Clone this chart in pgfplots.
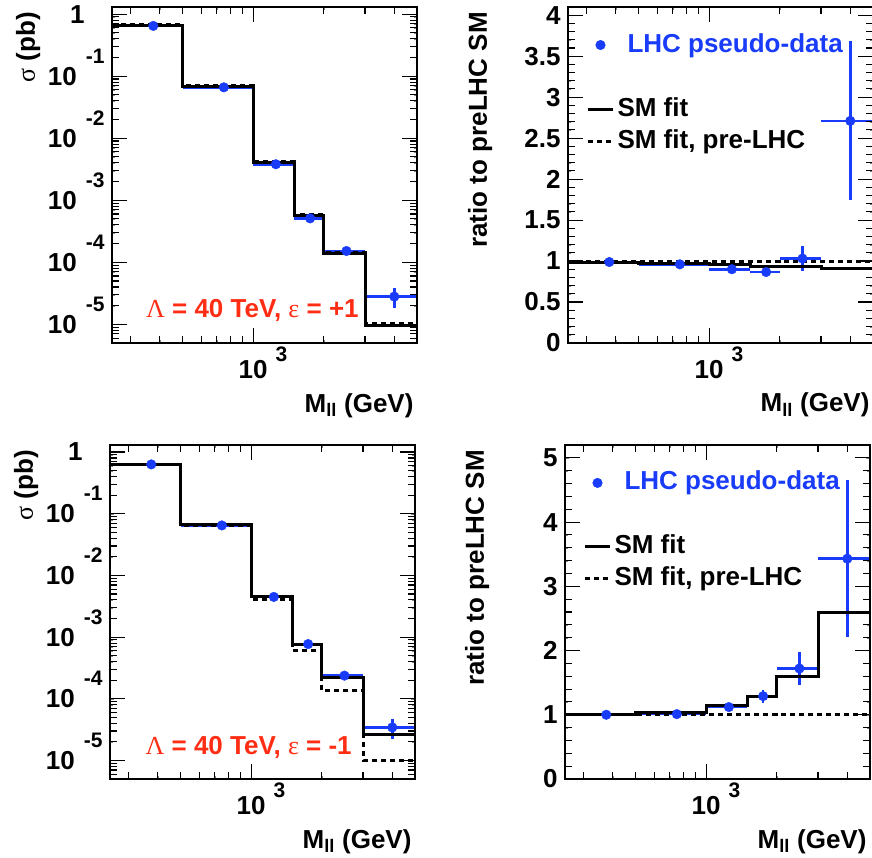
\documentclass[border=0pt]{standalone}
\usepackage{pgfplots}
\pgfplotsset{compat=1.18}
\usepackage{fontspec}
\setmainfont{Liberation Sans}
\newfontfamily\grk{Liberation Serif}
\definecolor{rblue}{RGB}{25,60,250}
\definecolor{rred}{RGB}{255,45,20}
\newcommand\fs{\fontsize{26}{31}\selectfont\bfseries}
\newcommand\expo[1]{10\raisebox{22pt}[0pt][0pt]{\hspace{9pt}\fontsize{21}{21}\selectfont #1}}
\newcommand\xexpo{10\rlap{\hspace{8pt}\raisebox{17pt}[0pt][0pt]{\fontsize{21}{21}\selectfont 3}}}
\tikzset{tk/.style={line width=1.1pt, black, solid}}
% x ticks: #1 ymin, #2 minor end, #3 major end, #4 ymax, #5 minor end, #6 major end
\newcommand\xtkP[6]{%
  \pgfplotsinvokeforeach{300,400,500,600,700,800,900,2000,3000,4000}{%
    \addplot[tk, forget plot] coordinates {(##1,#1)(##1,#2)};
    \addplot[tk, forget plot] coordinates {(##1,#4)(##1,#5)};}%
  \addplot[tk, forget plot] coordinates {(1000,#1)(1000,#3)};
  \addplot[tk, forget plot] coordinates {(1000,#4)(1000,#6)};}
% y ticks: #1 major list, #2 minor list
\newcommand\ytkP[2]{%
  \pgfplotsinvokeforeach{#1}{%
    \addplot[tk, forget plot] coordinates {(250,##1)(289.5,##1)};
    \addplot[tk, forget plot] coordinates {(5000,##1)(4318,##1)};}%
  \pgfplotsinvokeforeach{#2}{%
    \addplot[tk, forget plot] coordinates {(250,##1)(269,##1)};
    \addplot[tk, forget plot] coordinates {(5000,##1)(4647,##1)};}}
\newcommand\frmP[2]{\addplot[black, line width=2.8pt, solid, line cap=rect, line join=miter, forget plot] coordinates {(250,#1)(5000,#1)(5000,#2)(250,#2)(250,#1)};}

\pgfplotstableread{
x y ex ey
375 0.645 125 0.003
750 0.066 250 0.0007
1250 0.0038 250 0.0001
1750 5.1e-4 250 2.5e-5
2500 1.52e-4 500 2.1e-5
4000 2.8e-5 1000 1.0e-5
}\dataTL
\pgfplotstableread{
x y ex ey
375 0.988 125 0.005
750 0.96 250 0.01
1250 0.90 250 0.02
1750 0.866 250 0.03
2500 1.03 500 0.15
4000 2.71 1000 0.97
}\dataTR
\pgfplotstableread{
x y ex ey
375 0.63 125 0.003
750 0.0646 250 0.0006
1250 0.00448 250 1.3e-4
1750 7.7e-4 250 6e-5
2500 2.37e-4 500 3.5e-5
4000 3.43e-5 1000 1.24e-5
}\dataBL
\pgfplotstableread{
x y ex ey
375 1.0 125 0.01
750 1.01 250 0.02
1250 1.12 250 0.04
1750 1.29 250 0.1
2500 1.72 500 0.26
4000 3.43 1000 1.22
}\dataBR

\pgfplotsset{
  legend image code/.code={\draw[mark repeat=2,mark phase=2,#1] plot coordinates {(0pt,0pt)(12.5pt,0pt)(25pt,0pt)};},
  mycommon/.style={
    scale only axis, width=305pt, height=336pt,
    xmin=250, xmax=5000, clip=false,
    xtick={1000}, xticklabels={\xexpo},
    minor xtick={300,400,500,600,700,800,900,2000,3000,4000},
    tick label style={font=\fs},
    yticklabel style={xshift=-4pt},
    xticklabel style={yshift=-14pt},
    xlabel={M\textsubscript{ll} (GeV)},
    xlabel style={font=\fs, at={(axis description cs:1,0)}, anchor=base east, yshift=-69pt},
  },
  mylogsig/.style={mycommon,
    ymin=5e-6, ymax=1.3,
    ytick={1e-5,1e-4,1e-3,1e-2,1e-1,1},
    yticklabels={\expo{-5},\expo{-4},\expo{-3},\expo{-2},\expo{-1},{1\rule{20pt}{0pt}}},
    ylabel={{\grk\mdseries σ} (pb)},
    ylabel style={font=\fs, at={(axis description cs:-0.275,0.995)}, anchor=east},
  },
  myratio/.style={mycommon,
    ylabel={ratio to preLHC SM},
    ylabel style={font=\fs, at={(axis description cs:-0.288,0.995)}, anchor=east},
    legend style={draw=none, fill=none, at={(axis description cs:0.06,0.935)}, anchor=north west,
      font=\fs, inner sep=0pt, row sep=0pt, legend cell align=left,
      nodes={text height=20pt, text depth=6pt, inner sep=3pt, xshift=4pt}},
  },
  hsolid/.style={black, line width=3pt, const plot, forget plot},
  hdash/.style={black, line width=3pt, const plot, forget plot, dash pattern=on 5pt off 4pt},
  perr/.style={rblue, only marks, mark=none, forget plot,
    error bars/x dir=both, error bars/x explicit, error bars/y dir=both, error bars/y explicit,
    error bars/error mark=none, error bars/error bar style={line width=2.6pt, rblue, solid}},
  pmark/.style={rblue, only marks, mark=*, mark size=4.8pt, forget plot},
}

\begin{document}
\begin{tikzpicture}
\path[use as bounding box] (0pt,0pt) rectangle (872pt,-858pt);

% top-left
\begin{loglogaxis}[mylogsig, at={(112pt,-7pt)}, anchor=north west]
\addplot[perr] table[x=x,y=y,x error=ex,y error=ey] {\dataTL};
\addplot[hdash] coordinates {(250,0.67)(500,0.0697)(1000,0.00417)(1500,5.9e-4)(2000,1.45e-4)(3000,1.04e-5)(5000,1.04e-5)};
\addplot[hsolid] coordinates {(250,0.66)(500,0.0676)(1000,0.0040)(1500,5.6e-4)(2000,1.36e-4)(3000,9.6e-6)(5000,9.6e-6)};
\addplot[pmark] table[x=x,y=y] {\dataTL};
\xtkP{5e-6}{6.6e-6}{8.75e-6}{1.3}{0.985}{0.743}
\ytkP{1e-5,1e-4,1e-3,1e-2,1e-1,1}{6e-6,7e-6,8e-6,9e-6,2e-5,3e-5,4e-5,5e-5,6e-5,7e-5,8e-5,9e-5,2e-4,3e-4,4e-4,5e-4,6e-4,7e-4,8e-4,9e-4,2e-3,3e-3,4e-3,5e-3,6e-3,7e-3,8e-3,9e-3,2e-2,3e-2,4e-2,5e-2,6e-2,7e-2,8e-2,9e-2,0.2,0.3,0.4,0.5,0.6,0.7,0.8,0.9}
\frmP{5e-6}{1.3}
\node[anchor=base west, font=\fs, text=rred] at (rel axis cs:0.10,0.077) {{\grk\mdseries Λ} = 40 TeV, {\grk\mdseries ε} = +1};
\end{loglogaxis}

% top-right
\begin{semilogxaxis}[myratio, at={(568pt,-7pt)}, anchor=north west,
  ymin=0, ymax=4.1, ytick={0,0.5,1,1.5,2,2.5,3,3.5,4},
  yticklabels={0,0.5,1,1.5,2,2.5,3,3.5,4}, minor y tick num=4]
\addlegendimage{rblue, only marks, mark=*, mark size=4.8pt}
\addlegendentry{\textcolor{rblue}{\hspace{10pt}LHC pseudo-data}}
\addlegendimage{empty legend}
\addlegendentry{\strut}
\addlegendimage{black, line width=3pt}
\addlegendentry{SM fit}
\addlegendimage{black, line width=3pt, dash pattern=on 5pt off 4pt}
\addlegendentry{SM fit, pre-LHC}
\addplot[perr] table[x=x,y=y,x error=ex,y error=ey] {\dataTR};
\addplot[hdash] coordinates {(250,1)(500,1)(1000,1)(1500,1)(2000,1)(3000,1)(5000,1)};
\addplot[hsolid] coordinates {(250,0.98)(500,0.967)(1000,0.955)(1500,0.939)(2000,0.935)(3000,0.907)(5000,0.907)};
\addplot[pmark] table[x=x,y=y] {\dataTR};
\xtkP{0}{0.091}{0.183}{4.1}{4.009}{3.917}
\ytkP{0.5,1,1.5,2,2.5,3,3.5,4}{0.1,0.2,0.3,0.4,0.6,0.7,0.8,0.9,1.1,1.2,1.3,1.4,1.6,1.7,1.8,1.9,2.1,2.2,2.3,2.4,2.6,2.7,2.8,2.9,3.1,3.2,3.3,3.4,3.6,3.7,3.8,3.9}
\frmP{0}{4.1}
\end{semilogxaxis}

% bottom-left
\begin{loglogaxis}[mylogsig, at={(110pt,-445pt)}, anchor=north west, height=334pt]
\addplot[perr] table[x=x,y=y,x error=ex,y error=ey] {\dataBL};
\addplot[hdash] coordinates {(250,0.63)(500,0.064)(1000,0.0040)(1500,6.0e-4)(2000,1.38e-4)(3000,1.0e-5)(5000,1.0e-5)};
\addplot[hsolid] coordinates {(250,0.63)(500,0.066)(1000,0.00456)(1500,7.7e-4)(2000,2.2e-4)(3000,2.6e-5)(5000,2.6e-5)};
\addplot[pmark] table[x=x,y=y] {\dataBL};
\xtkP{5e-6}{6.6e-6}{8.75e-6}{1.3}{0.985}{0.743}
\ytkP{1e-5,1e-4,1e-3,1e-2,1e-1,1}{6e-6,7e-6,8e-6,9e-6,2e-5,3e-5,4e-5,5e-5,6e-5,7e-5,8e-5,9e-5,2e-4,3e-4,4e-4,5e-4,6e-4,7e-4,8e-4,9e-4,2e-3,3e-3,4e-3,5e-3,6e-3,7e-3,8e-3,9e-3,2e-2,3e-2,4e-2,5e-2,6e-2,7e-2,8e-2,9e-2,0.2,0.3,0.4,0.5,0.6,0.7,0.8,0.9}
\frmP{5e-6}{1.3}
\node[anchor=base west, font=\fs, text=rred] at (rel axis cs:0.105,0.072) {{\grk\mdseries Λ} = 40 TeV, {\grk\mdseries ε} = -1};
\end{loglogaxis}

% bottom-right
\begin{semilogxaxis}[myratio, at={(565pt,-445pt)}, anchor=north west, height=334pt,
  ymin=0, ymax=5.2, ytick={0,1,2,3,4,5},
  yticklabels={0,1,2,3,4,5}, minor y tick num=4]
\addlegendimage{rblue, only marks, mark=*, mark size=4.8pt}
\addlegendentry{\textcolor{rblue}{\hspace{10pt}LHC pseudo-data}}
\addlegendimage{empty legend}
\addlegendentry{\strut}
\addlegendimage{black, line width=3pt}
\addlegendentry{SM fit}
\addlegendimage{black, line width=3pt, dash pattern=on 5pt off 4pt}
\addlegendentry{SM fit, pre-LHC}
\addplot[perr] table[x=x,y=y,x error=ex,y error=ey] {\dataBR};
\addplot[hdash] coordinates {(250,1)(500,1)(1000,1)(1500,1)(2000,1)(3000,1)(5000,1)};
\addplot[hsolid] coordinates {(250,1.0)(500,1.035)(1000,1.14)(1500,1.28)(2000,1.59)(3000,2.6)(5000,2.6)};
\addplot[pmark] table[x=x,y=y] {\dataBR};
\xtkP{0}{0.116}{0.233}{5.2}{5.084}{4.967}
\ytkP{1,2,3,4,5}{0.2,0.4,0.6,0.8,1.2,1.4,1.6,1.8,2.2,2.4,2.6,2.8,3.2,3.4,3.6,3.8,4.2,4.4,4.6,4.8}
\frmP{0}{5.2}
\end{semilogxaxis}
\end{tikzpicture}
\end{document}
